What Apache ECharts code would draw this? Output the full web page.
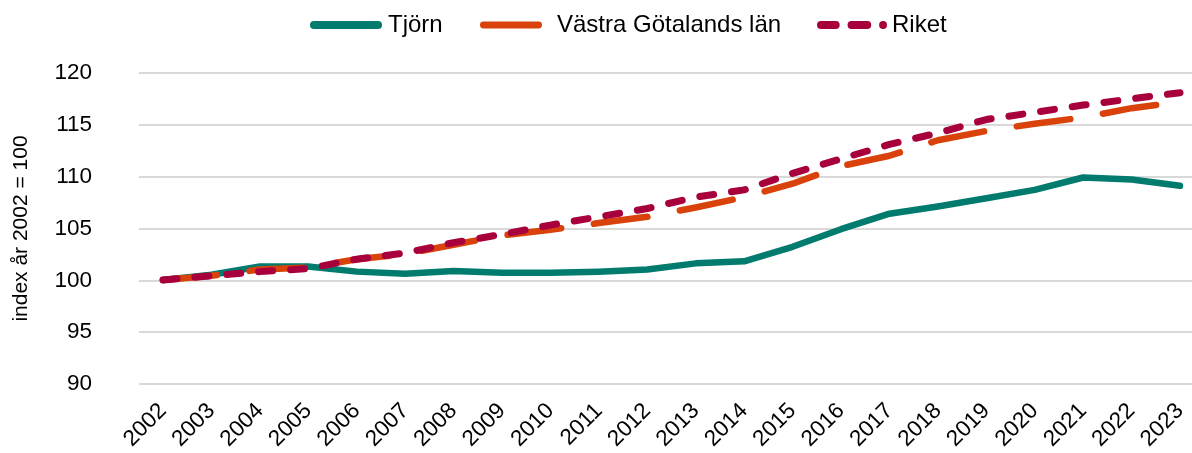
<!DOCTYPE html>
<html>
<head>
<meta charset="utf-8">
<script src="https://cdn.jsdelivr.net/npm/echarts@6/dist/echarts.min.js"></script>
<style>
html,body{margin:0;padding:0;background:#fff;}
#c{width:1192px;height:453px;}
</style>
</head>
<body>
<div id="c"></div>
<script>
const years = ['2002','2003','2004','2005','2006','2007','2008','2009','2010','2011','2012','2013','2014','2015','2016','2017','2018','2019','2020','2021','2022','2023'];
const tjorn = [100,100.5,101.3,101.3,100.8,100.6,100.85,100.7,100.7,100.8,101.0,101.6,101.8,103.2,104.9,106.4,107.1,107.9,108.7,109.9,109.7,109.1];
const vastra = [100,100.4,101.0,101.2,102.0,102.5,103.4,104.3,104.85,105.5,106.1,107.0,108.0,109.3,111.0,112.0,113.5,114.4,115.1,115.7,116.6,117.2];
const riket = [100,100.4,100.8,101.1,102.0,102.6,103.6,104.4,105.3,106.1,106.9,108.0,108.7,110.3,111.7,113.1,114.2,115.5,116.2,116.9,117.5,118.1];
const yTicks = {min:90, max:120, interval:5};

const GREEN = '#007B6E', ORANGE = '#D9420B', RED = '#A8003C';
const font = 'Liberation Sans, Arial, sans-serif';
const solidIcon = 'path://M4,0 H68 A4,4 0 0 1 68,8 H4 A4,4 0 0 1 4,0 Z';
const dashIcon = 'path://M4,0 H19 A4,4 0 0 1 19,8 H4 A4,4 0 0 1 4,0 Z M35,0 H51 A4,4 0 0 1 51,8 H35 A4,4 0 0 1 35,0 Z M67,0 A4,4 0 0 1 67,8 A4,4 0 0 1 67,0 Z';

const legendBase = {
  top:8, itemHeight:8, itemGap:0,
  textStyle:{fontSize:24, color:'#000', fontFamily:font}
};

const chart = echarts.init(document.getElementById('c'), null, {renderer:'canvas'});
chart.setOption({
  animation:false,
  backgroundColor:'#fff',
  textStyle:{fontFamily:font},
  legend:[
    Object.assign({}, legendBase, {left:305, itemWidth:74, data:[{name:'Tjörn', icon:solidIcon, itemStyle:{color:GREEN}}]}),
    Object.assign({}, legendBase, {left:475, itemWidth:62, data:[{name:'Västra Götalands län', icon:solidIcon, itemStyle:{color:ORANGE}, textStyle:{padding:[0,0,0,10]}}]}),
    Object.assign({}, legendBase, {left:812, itemWidth:70, data:[{name:'Riket', icon:dashIcon, itemStyle:{color:RED}}]})
  ],
  grid:[
    {left:163, right:12, top:73, bottom:69, containLabel:false},
    {left:139, right:0, top:73, bottom:69, containLabel:false}
  ],
  xAxis:[
    {
      type:'category', data:years, boundaryGap:false, gridIndex:0,
      axisLine:{show:false}, axisTick:{show:false}, splitLine:{show:false},
      axisLabel:{rotate:45, fontSize:22.5, color:'#000', fontFamily:font, margin:24, interval:0}
    },
    {type:'value', gridIndex:1, show:false, min:0, max:1}
  ],
  yAxis:[
    {
      type:'value', gridIndex:0, min:yTicks.min, max:yTicks.max, interval:yTicks.interval,
      show:false, splitLine:{show:false}
    },
    {
      type:'value', gridIndex:1, min:yTicks.min, max:yTicks.max, interval:yTicks.interval,
      axisLine:{show:false}, axisTick:{show:false},
      splitLine:{lineStyle:{color:'#d9d9d9', width:2}},
      axisLabel:{fontSize:22.5, color:'#000', fontFamily:font, margin:47},
      name:'index år 2002 = 100', nameLocation:'middle', nameRotate:90, nameGap:107,
      nameTextStyle:{fontSize:21, color:'#000', fontFamily:font}
    }
  ],
  series:[
    {name:'Tjörn', type:'line', data:tjorn, xAxisIndex:0, yAxisIndex:0, showSymbol:false, symbol:'none',
     lineStyle:{color:GREEN, width:6.5, cap:'round', join:'round'}, itemStyle:{color:GREEN}, z:2},
    {name:'Västra Götalands län', type:'line', data:vastra, xAxisIndex:0, yAxisIndex:0, showSymbol:false, symbol:'none',
     lineStyle:{color:ORANGE, width:6.5, type:[54,33], cap:'round', join:'round'}, itemStyle:{color:ORANGE}, z:3},
    {name:'Riket', type:'line', data:riket, xAxisIndex:0, yAxisIndex:0, showSymbol:false, symbol:'none',
     lineStyle:{color:RED, width:7, type:[14,18], cap:'round', join:'round'}, itemStyle:{color:RED}, z:4}
  ]
});
</script>
</body>
</html>
